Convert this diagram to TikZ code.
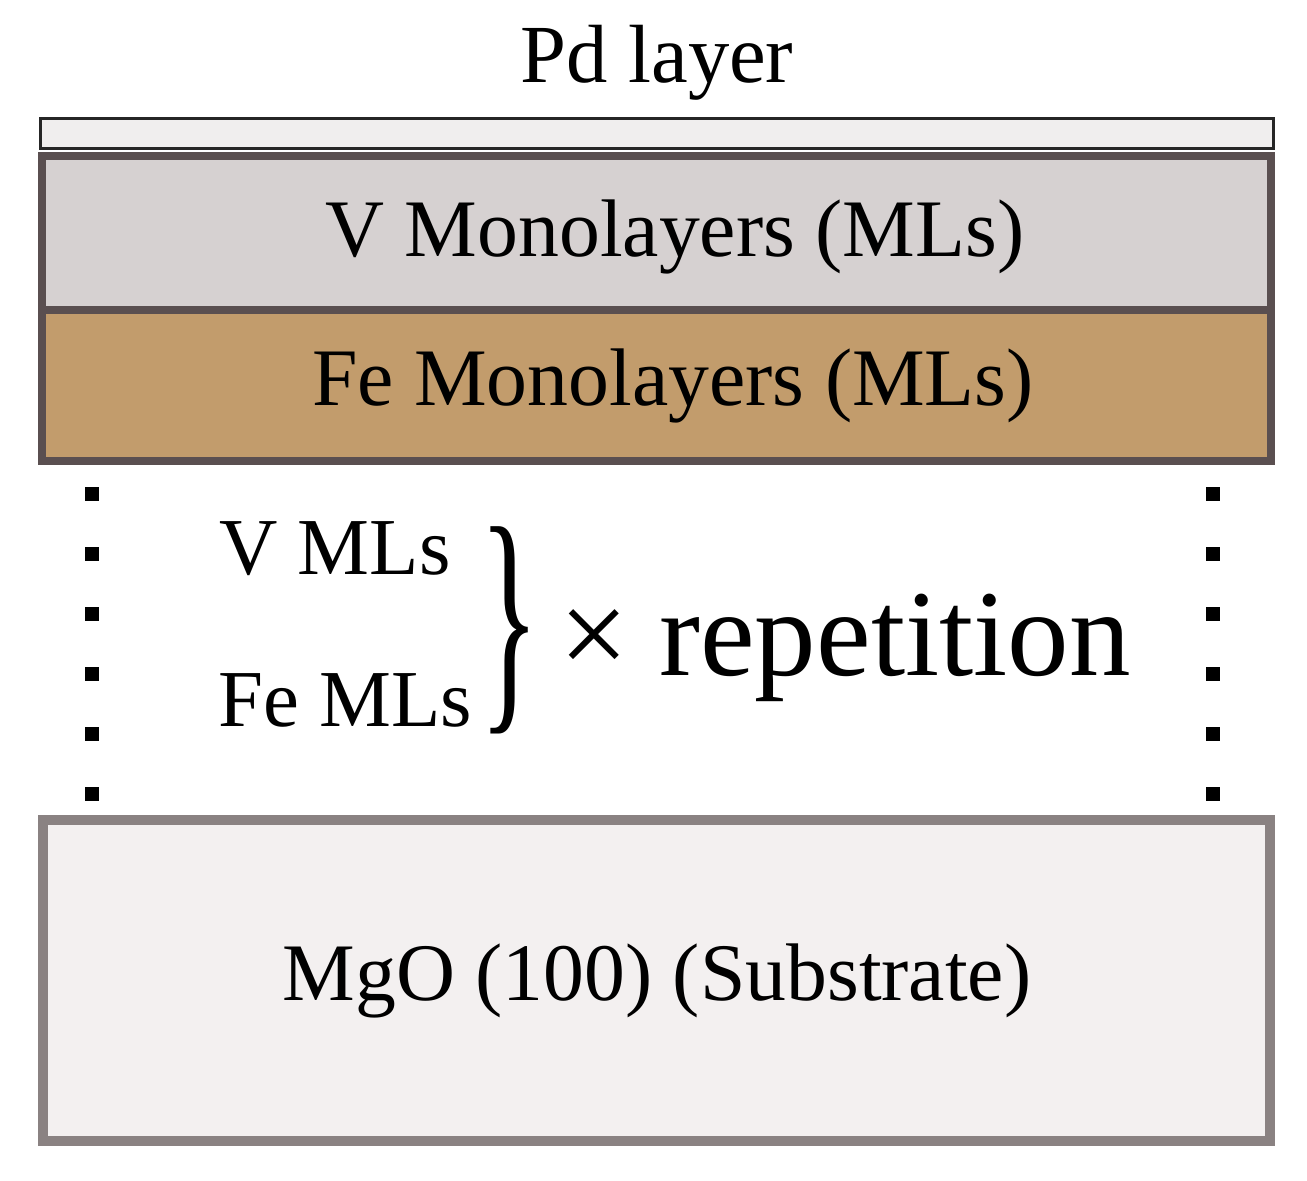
\documentclass[tikz,border=0pt]{standalone}
\usepackage{fontspec}
\setmainfont{Liberation Serif}
\begin{document}
\begin{tikzpicture}[x=0.02cm,y=-0.02cm,
  lbl/.style={inner sep=0pt,anchor=base},
  dot/.style={fill=black,minimum size=0.28cm,inner sep=0pt}]
\definecolor{pdc}{HTML}{F0EEEE}
\definecolor{vc}{HTML}{D6D1D1}
\definecolor{fec}{HTML}{C29C6C}
\definecolor{edge}{HTML}{5A4F50}
\definecolor{subc}{HTML}{F3F0F0}
\definecolor{sube}{HTML}{8A8282}
\useasboundingbox (0,0) rectangle (1307,1180);
\draw[fill=pdc,draw=black!85,line width=0.06cm] (40,118) rectangle (1273,148);
\draw[fill=fec,draw=edge,line width=0.16cm] (42,310) rectangle (1271,461);
\draw[fill=vc,draw=edge,line width=0.16cm] (42,156) rectangle (1271,310);
\draw[fill=subc,draw=sube,line width=0.2cm] (43,820) rectangle (1270,1141);
\node[lbl] (pd) at (657,82) {\fontsize{47}{52}\selectfont Pd layer};
\node[lbl] (v) at (675,256) {\fontsize{46.5}{52}\selectfont V Monolayers (MLs)};
\node[lbl] (fe) at (673,405) {\fontsize{46.5}{52}\selectfont Fe Monolayers (MLs)};
\node[lbl] (vm) at (335,574) {\fontsize{46}{52}\selectfont V MLs};
\node[lbl] (fm) at (345,726) {\fontsize{46}{52}\selectfont Fe MLs};
\node[inner sep=0pt] (br) at (510,630) {\scalebox{1.15}[2.3]{\fontsize{62}{62}\selectfont \}}};
\node[lbl] (rep) at (845,675) {\fontsize{70}{76}\selectfont × repetition};
\node[lbl] (mgo) at (657,1000) {\fontsize{46.5}{52}\selectfont MgO (100) (Substrate)};
\foreach \i in {0,...,5}{
  \node[dot] (l\i) at (92,{494+\i*60}) {};
  \node[dot] (r\i) at (1213,{494+\i*60}) {};
}
\end{tikzpicture}
\end{document}
